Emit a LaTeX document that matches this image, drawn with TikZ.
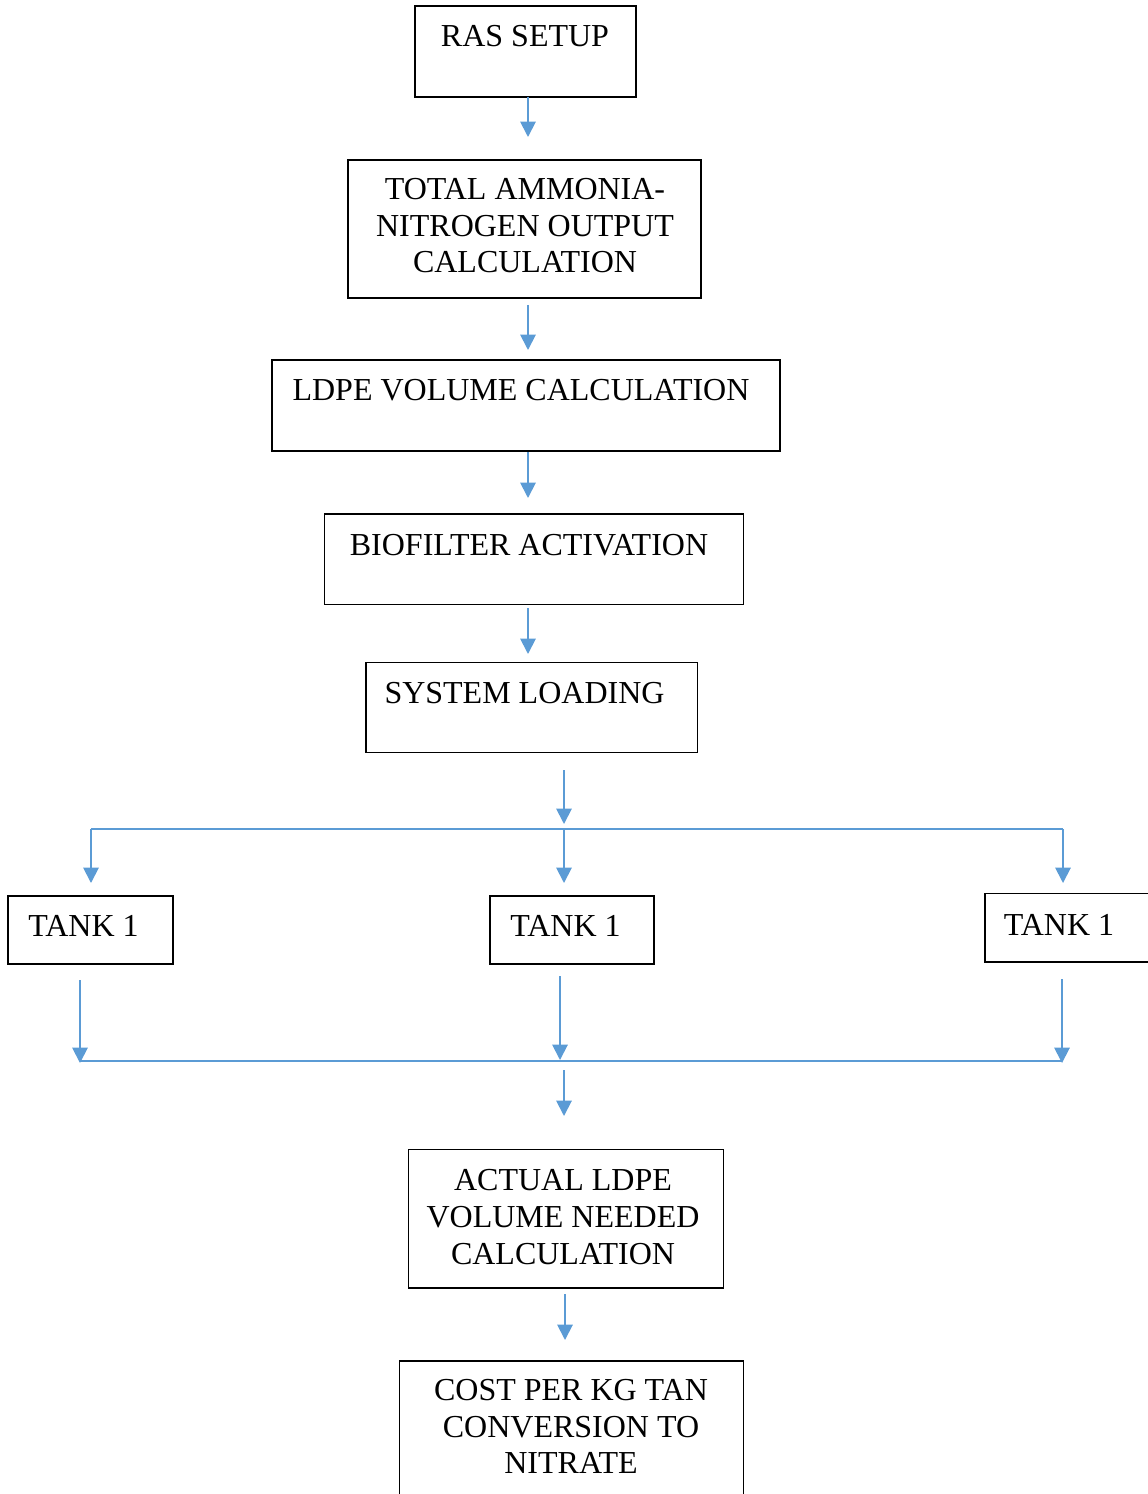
\documentclass[tikz,border=0pt]{standalone}
\usepackage{fontspec}
\setmainfont{Liberation Serif}
\usetikzlibrary{arrows.meta}
\definecolor{flowblue}{HTML}{5B9BD5}
\begin{document}
\begin{tikzpicture}[x=0.75pt,y=-0.75pt,
 box/.style={draw=black,line width=0.9pt,inner sep=0pt,rectangle},
 txt/.style={anchor=base,inner sep=0pt,font=\fontsize{24}{27.5}\selectfont},
 conn/.style={draw=flowblue,line width=1.4pt,-{Triangle[width=11.5pt,length=11.5pt]}},
 bar/.style={draw=flowblue,line width=1.1pt}]
\useasboundingbox (0,0) rectangle (1148,1494);
\clip (0,0) rectangle (1148,1494);
% boxes
\node[box,minimum width=165.75pt,minimum height=68.25pt] (ras) at (525.5,51.5) {};
\node[box,minimum width=264.75pt,minimum height=103.5pt] (tan) at (524.5,229) {};
\node[box,minimum width=381pt,minimum height=68.25pt] (ldpe) at (526,405.5) {};
\node[box,minimum width=314.25pt,minimum height=67.875pt] (bio) at (534,559.3) {};
\node[box,minimum width=248.625pt,minimum height=67.5pt] (sys) at (531.7,707.4) {};
\node[box,minimum width=123.75pt,minimum height=51pt] (tankL) at (90.5,930) {};
\node[box,minimum width=123pt,minimum height=51pt] (tankM) at (572,930) {};
\node[box,minimum width=125.25pt,minimum height=51.375pt] (tankR) at (1068.5,927.7) {};
\node[box,minimum width=236.25pt,minimum height=104pt] (act) at (565.8,1218.6) {};
\node[box,minimum width=258pt,minimum height=104.25pt] (cost) at (571.4,1430.5) {};
% texts
\node[txt] (ras-t) at (525,46.3) {RAS SETUP};
\node[txt] (tan-t) at (525,199.5) {\begin{tabular}[t]{@{}c@{}}TOTAL AMMONIA-\\NITROGEN OUTPUT\\CALCULATION\end{tabular}};
\node[txt] (ldpe-t) at (521,400.7) {LDPE VOLUME CALCULATION};
\node[txt] (bio-t) at (529,555) {BIOFILTER ACTIVATION};
\node[txt] (sys-t) at (524.5,703.3) {SYSTEM LOADING};
\node[txt] (tankL-t) at (83.5,936.7) {TANK 1};
\node[txt] (tankM-t) at (565.5,936.7) {TANK 1};
\node[txt] (tankR-t) at (1059,935) {TANK 1};
\node[txt] (act-t) at (563,1190.7) {\begin{tabular}[t]{@{}c@{}}ACTUAL LDPE\\VOLUME NEEDED\\CALCULATION\end{tabular}};
\node[txt] (cost-t) at (571,1400.5) {\begin{tabular}[t]{@{}c@{}}COST PER KG TAN\\CONVERSION TO\\NITRATE\end{tabular}};
% connector end points
\coordinate (a1s) at (528,97);   \coordinate (a1e) at (528,137);
\coordinate (a2s) at (528,305);  \coordinate (a2e) at (528,350);
\coordinate (a3s) at (528,452);  \coordinate (a3e) at (528,498);
\coordinate (a4s) at (528,608);  \coordinate (a4e) at (528,654);
\coordinate (a5s) at (564,770);  \coordinate (a5e) at (564,824);
\coordinate (splitL) at (91,829); \coordinate (splitM) at (564,829); \coordinate (splitR) at (1063,829);
\coordinate (d1e) at (91,883); \coordinate (d2e) at (564,883); \coordinate (d3e) at (1063,883);
\coordinate (u1s) at (80,980);  \coordinate (u1e) at (80,1063);
\coordinate (u2s) at (560,976); \coordinate (u2e) at (560,1060);
\coordinate (u3s) at (1062,979); \coordinate (u3e) at (1062,1063);
\coordinate (joinL) at (80,1061); \coordinate (joinR) at (1062,1061);
\coordinate (a6s) at (564,1070); \coordinate (a6e) at (564,1116);
\coordinate (a7s) at (565,1294); \coordinate (a7e) at (565,1340);
% connectors
\draw[conn] (a1s) -- (a1e);
\draw[conn] (a2s) -- (a2e);
\draw[conn] (a3s) -- (a3e);
\draw[conn] (a4s) -- (a4e);
\draw[conn] (a5s) -- (a5e);
\draw[bar] (splitL) -- (splitR);
\draw[conn] (splitL) -- (d1e);
\draw[conn] (splitM) -- (d2e);
\draw[conn] (splitR) -- (d3e);
\draw[conn] (u1s) -- (u1e);
\draw[conn] (u2s) -- (u2e);
\draw[conn] (u3s) -- (u3e);
\draw[bar] (joinL) -- (joinR);
\draw[conn] (a6s) -- (a6e);
\draw[conn] (a7s) -- (a7e);
\end{tikzpicture}
\end{document}
